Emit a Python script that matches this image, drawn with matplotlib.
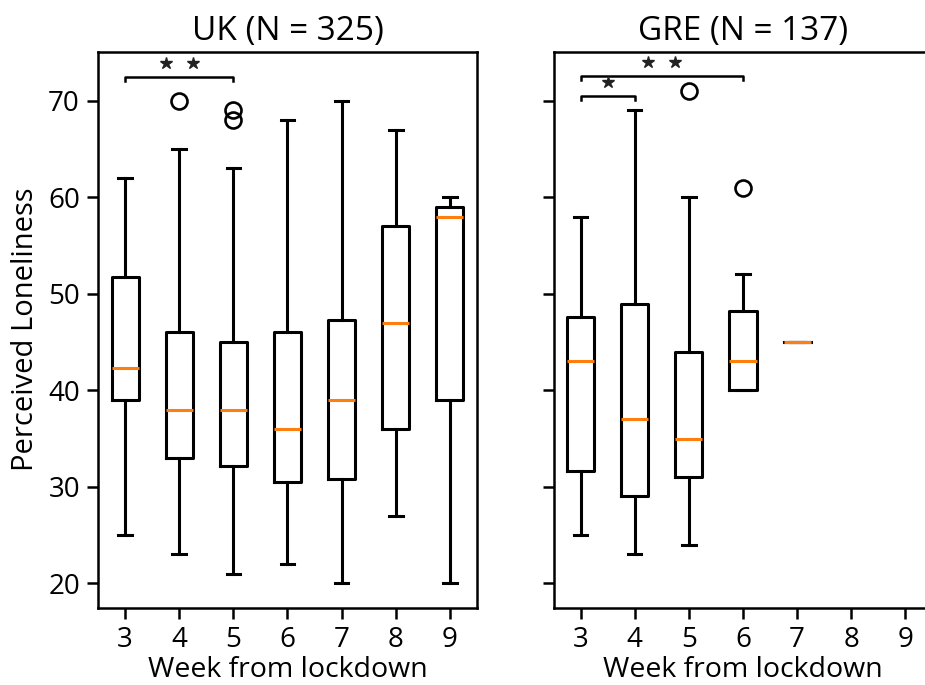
import matplotlib
matplotlib.use("Agg")
import matplotlib.pyplot as plt

plt.rcParams['font.family'] = ['Open Sans', 'DejaVu Sans']

weeks = [3, 4, 5, 6, 7, 8, 9]

# UK stats per week: whislo, q1, median, q3, whishi
uk_weeks = [3, 4, 5, 6, 7, 8, 9]
uk_whislo = [25, 23, 21, 22, 20, 27, 20]
uk_q1 = [39, 33, 32.2, 30.5, 30.8, 36, 39]
uk_med = [42.3, 38, 38, 36, 39, 47, 58]
uk_q3 = [51.7, 46, 45, 46, 47.3, 57, 59]
uk_whishi = [62, 65, 63, 68, 70, 67, 60]
uk_fliers = [[], [70], [69, 68], [], [], [], []]

gr_weeks = [3, 4, 5, 6, 7]
gr_whislo = [25, 23, 24, 40, 45]
gr_q1 = [31.6, 29, 31, 40, 45]
gr_med = [43, 37, 35, 43, 45]
gr_q3 = [47.6, 48.9, 44, 48.2, 45]
gr_whishi = [58, 69, 60, 52, 45]
gr_fliers = [[], [], [71], [61], []]

titles = ["UK (N = 325)", "GRE (N = 137)"]

# significance brackets: (x1, x2, y, number of stars)
uk_sig = [(3, 5, 72.5, 2)]
gr_sig = [(3, 6, 72.6, 2), (3, 4, 70.5, 1)]


def make_stats(whislo, q1, med, q3, whishi, fliers):
    out = []
    for a, b, c, d, e, f in zip(whislo, q1, med, q3, whishi, fliers):
        out.append(dict(whislo=a, q1=b, med=c, q3=d, whishi=e, fliers=f))
    return out


fig = plt.figure(figsize=(9.25, 6.85), dpi=100)
ax1 = fig.add_axes([98 / 925, 1 - 607.5 / 685, 379 / 925, 556 / 685])
ax2 = fig.add_axes([553.5 / 925, 1 - 607.5 / 685, 379 / 925, 556 / 685], sharey=ax1)

lw = 2.2
props = dict(
    boxprops=dict(color='black', linewidth=lw),
    whiskerprops=dict(color='black', linewidth=lw),
    capprops=dict(color='black', linewidth=lw),
    medianprops=dict(color='#ff7f0e', linewidth=lw),
    flierprops=dict(marker='o', markerfacecolor='none', markeredgecolor='black',
                    markersize=11.5, markeredgewidth=1.9),
)

ax1.bxp(make_stats(uk_whislo, uk_q1, uk_med, uk_q3, uk_whishi, uk_fliers),
        positions=uk_weeks, widths=0.5, **props)
ax2.bxp(make_stats(gr_whislo, gr_q1, gr_med, gr_q3, gr_whishi, gr_fliers),
        positions=gr_weeks, widths=0.5, **props)

fs_tick = 20
for ax, title, sig in [(ax1, titles[0], uk_sig), (ax2, titles[1], gr_sig)]:
    ax.set_xlim(2.5, 9.5)
    ax.set_xticks(weeks)
    ax.set_xticklabels([str(w) for w in weeks])
    ax.set_ylim(17.5, 75.1)
    ax.set_yticks([20, 30, 40, 50, 60, 70])
    ax.tick_params(labelsize=fs_tick, length=8, width=1.8, pad=5)
    for s in ax.spines.values():
        s.set_linewidth(1.8)
    ax.set_title(title, fontsize=24, pad=8)
    ax.set_xlabel("Week from lockdown", fontsize=20.5, labelpad=2)
    for x1, x2, y, n in sig:
        ax.plot([x1, x1, x2, x2], [y - 0.45, y, y, y - 0.45], color='black', lw=1.8)
        cx = (x1 + x2) / 2
        if n == 1:
            xs = [cx]
        else:
            xs = [cx - 0.25, cx + 0.25]
        ax.plot(xs, [y + 1.45] * len(xs), linestyle='none', marker='*',
                markersize=9, color='#222222')

ax2.spines['right'].set_visible(False)
ax1.set_ylabel("Perceived Loneliness", fontsize=21, labelpad=6)
ax2.tick_params(labelleft=False)

fig.savefig("out.png", dpi=100)
